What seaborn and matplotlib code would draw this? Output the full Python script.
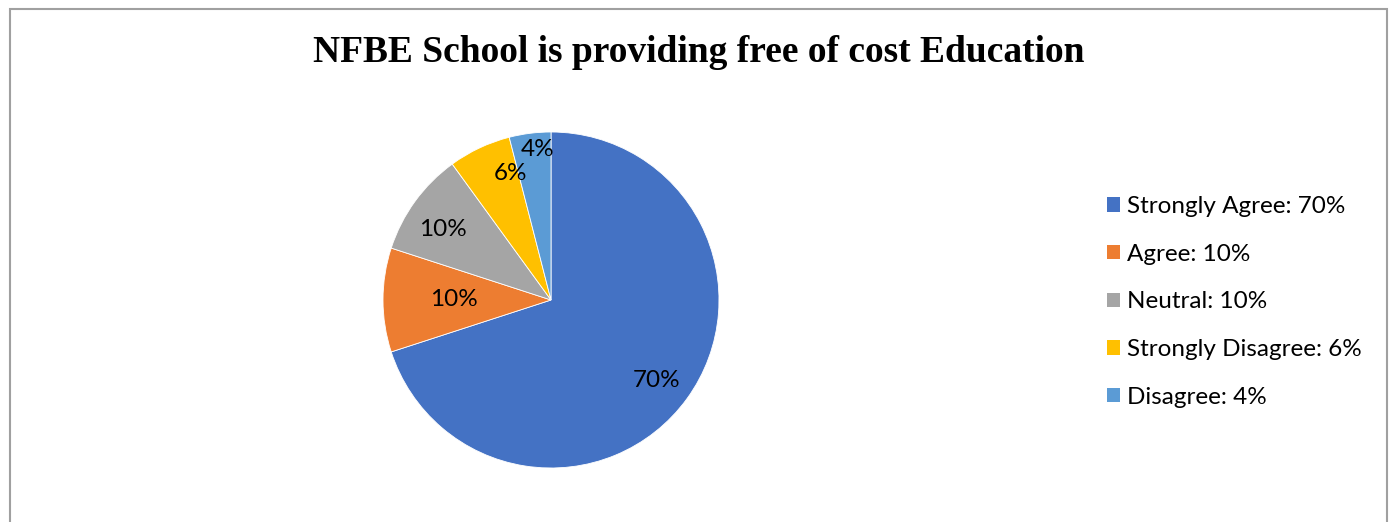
import matplotlib
matplotlib.use("Agg")
import matplotlib.pyplot as plt
import seaborn as sns
import numpy as np
from matplotlib.patches import Rectangle, Patch

sns.set_theme(style="white")
plt.rcParams['font.family'] = ['Lato', 'DejaVu Sans']
plt.rcParams['text.color'] = 'black'

title = "NFBE School is providing free of cost Education"
categories = ["Strongly Agree", "Agree", "Neutral", "Strongly Disagree", "Disagree"]
values = [70, 10, 10, 6, 4]
colors = ["#4472C4", "#ED7D31", "#A5A5A5", "#FFC000", "#5B9BD5"]
# label placement (style): radial distance and angular shift from the wedge middle
label_dist = [0.79, 0.58, 0.77, 0.79, 0.90]
label_shift = [-1.6, 0.0, 2.8, -7.3, -1.9]

W, H = 1390, 522
fig = plt.figure(figsize=(W / 100, H / 100), dpi=100)

# border
fig.patches.append(Rectangle((9.5 / W, -0.1), (1387 - 9.5) / W, 1.1 - 8.5 / H,
                             transform=fig.transFigure, fill=False,
                             edgecolor="#A0A0A0", linewidth=1.5))

cx, cy, R = 551, 300, 168
ax = fig.add_axes([(cx - R) / W, (H - cy - R) / H, 2 * R / W, 2 * R / H])
wedges, _ = ax.pie(values, colors=colors, startangle=90, counterclock=False,
                   radius=1, wedgeprops=dict(edgecolor="white", linewidth=0.6))
ax.set_xlim(-1, 1)
ax.set_ylim(-1, 1)
ax.set_aspect("auto")
ax.axis("off")

for w, v, d, s in zip(wedges, values, label_dist, label_shift):
    ang = np.deg2rad((w.theta1 + w.theta2) / 2 + s)
    ax.text(d * np.cos(ang), d * np.sin(ang), f"{v}%", ha="center", va="center",
            fontsize=17.5, color="black")

fig.text(699 / W, 1 - 52 / H, title, ha="center", va="center", color="black",
         fontsize=27, fontweight="bold", family="Liberation Serif")

handles = [Patch(facecolor=c, edgecolor="none") for c in colors]
labels = [f"{c}: {v}%" for c, v in zip(categories, values)]
leg = fig.legend(handles, labels, loc="upper left", bbox_to_anchor=(1107 / W, 1 - 196 / H),
                 frameon=False, fontsize=17.5, handlelength=0.53, handleheight=0.53,
                 handletextpad=0.29, labelspacing=1.1, borderaxespad=0, borderpad=0)
for t in leg.get_texts():
    t.set_color("black")

fig.savefig("out.png", dpi=100)
